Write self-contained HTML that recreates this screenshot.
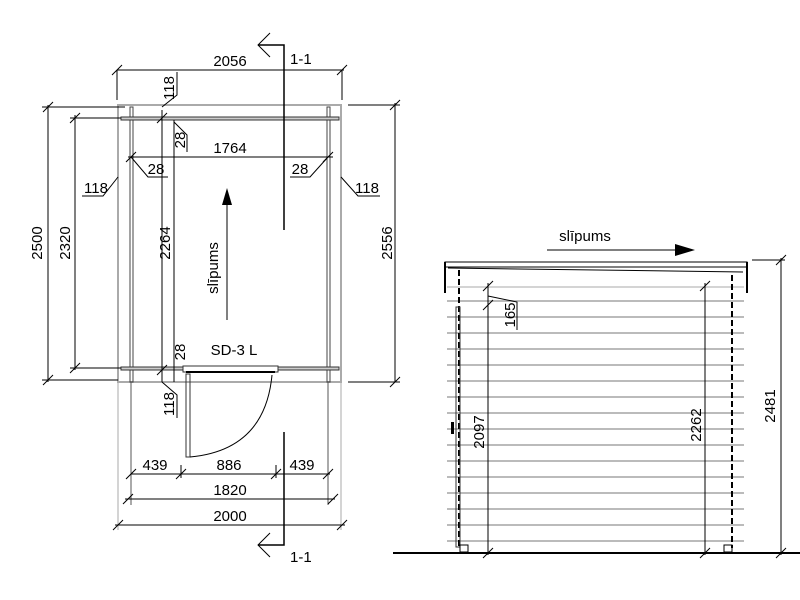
<!DOCTYPE html>
<html><head><style>body{margin:0;background:#fff}svg{display:block}text{font-family:"Liberation Sans",sans-serif;font-size:15px;fill:#000}</style></head><body>
<svg width="800" height="600" viewBox="0 0 800 600" xmlns="http://www.w3.org/2000/svg">
<defs>
<g id="t"><line x1="-5" y1="5" x2="5" y2="-5" stroke="#000" stroke-width="1"/></g>
</defs>
<g fill="none" stroke-width="1">
<rect x="118" y="105" width="223" height="277" stroke="#aaa" stroke-width="2"/>
<line x1="118" y1="382" x2="118" y2="530" stroke="#aaa"/>
<line x1="341" y1="382" x2="341" y2="530" stroke="#aaa"/>
<rect x="130" y="107" width="3" height="275" stroke="#444"/>
<rect x="327" y="107" width="3" height="275" stroke="#444"/>
<line x1="131" y1="382" x2="131" y2="505" stroke="#555"/>
<line x1="328" y1="382" x2="328" y2="505" stroke="#555"/>
<rect x="121" y="117" width="218" height="3" stroke="#333" fill="#ccc"/>
<rect x="121" y="367" width="218" height="3" stroke="#333" fill="#ccc"/>
<rect x="183" y="366" width="95" height="6" stroke="#333" fill="#fff"/>
<line x1="186" y1="372" x2="275" y2="372" stroke="#000" stroke-width="2"/>
<rect x="186" y="374" width="4" height="83" stroke="#333"/>
<path d="M190 457 Q265 450 272 375" stroke="#000"/>
<polyline points="270,33 258,45 270,57" stroke="#000"/>
<polyline points="258,45 284,45 284,230" stroke="#000" stroke-width="1.5"/>
<polyline points="284,432 284,545 258,545" stroke="#000" stroke-width="1.5"/>
<polyline points="270,533 258,545 270,557" stroke="#000"/>
<g stroke="#000">
<line x1="117" y1="70" x2="344" y2="70"/><line x1="117" y1="70" x2="117" y2="100"/><line x1="342" y1="70" x2="342" y2="100"/>
<line x1="128" y1="157" x2="333" y2="157"/>
<line x1="131" y1="474" x2="330" y2="474"/><line x1="181" y1="465" x2="181" y2="478"/><line x1="276" y1="465" x2="276" y2="478"/>
<line x1="125" y1="499" x2="335" y2="499"/>
<line x1="115" y1="525" x2="345" y2="525"/>
<line x1="48" y1="105" x2="48" y2="382"/><line x1="42" y1="107" x2="125" y2="107"/><line x1="42" y1="380" x2="118" y2="380"/>
<line x1="75" y1="115" x2="75" y2="370"/><line x1="70" y1="118" x2="121" y2="118"/><line x1="70" y1="368" x2="121" y2="368"/>
<line x1="162" y1="110" x2="162" y2="382"/>
<line x1="174" y1="120" x2="174" y2="382"/>
<line x1="395" y1="103" x2="395" y2="382"/><line x1="348" y1="105" x2="400" y2="105"/><line x1="348" y1="382" x2="400" y2="382"/>
<polyline points="162,107 177,95 177,72"/>
<polyline points="174,122 187,135 187,152"/>
<polyline points="131,157 148,177 168,177"/>
<polyline points="328,157 310,177 290,177"/>
<polyline points="118,177 103,196 82,196"/>
<polyline points="341,177 358,196 380,196"/>
<polyline points="162,382 177,395 177,418"/>
<line x1="227" y1="200" x2="227" y2="320"/>
</g>
<polygon points="227,188 222,205 232,205" fill="#000" stroke="none"/>
<g>
<use href="#t" x="117" y="70"/><use href="#t" x="342" y="70"/><use href="#t" x="131" y="157"/><use href="#t" x="328" y="157"/>
<use href="#t" x="131" y="474"/><use href="#t" x="181" y="474"/><use href="#t" x="276" y="474"/><use href="#t" x="328" y="474"/>
<use href="#t" x="128" y="499"/><use href="#t" x="333" y="499"/><use href="#t" x="118" y="525"/><use href="#t" x="342" y="525"/>
<use href="#t" x="48" y="107"/><use href="#t" x="48" y="380"/><use href="#t" x="75" y="118"/><use href="#t" x="75" y="368"/>
<use href="#t" x="395" y="105"/><use href="#t" x="395" y="382"/><use href="#t" x="162" y="118"/><use href="#t" x="162" y="370"/>
</g>
<line x1="393" y1="553" x2="800" y2="553" stroke="#000" stroke-width="2"/>
<g stroke="#bbb" stroke-width="2">
<line x1="447" y1="301" x2="744" y2="301"/><line x1="447" y1="317" x2="744" y2="317"/><line x1="447" y1="333" x2="744" y2="333"/><line x1="447" y1="349" x2="744" y2="349"/><line x1="447" y1="365" x2="744" y2="365"/><line x1="447" y1="381" x2="744" y2="381"/><line x1="447" y1="397" x2="744" y2="397"/><line x1="447" y1="413" x2="744" y2="413"/><line x1="447" y1="429" x2="744" y2="429"/><line x1="447" y1="445" x2="744" y2="445"/><line x1="447" y1="461" x2="744" y2="461"/><line x1="447" y1="477" x2="744" y2="477"/><line x1="447" y1="493" x2="744" y2="493"/><line x1="447" y1="509" x2="744" y2="509"/><line x1="447" y1="525" x2="744" y2="525"/><line x1="447" y1="541" x2="744" y2="541"/>
</g>
<line x1="447" y1="287" x2="744" y2="287" stroke="#aaa"/>
<rect x="445" y="262" width="302" height="5" stroke="#000" fill="#fff"/>
<line x1="448" y1="268" x2="743" y2="272" stroke="#000"/>
<line x1="445" y1="262" x2="445" y2="293" stroke="#000" stroke-width="2"/>
<line x1="747" y1="262" x2="747" y2="293" stroke="#000" stroke-width="2"/>
<line x1="459" y1="270" x2="459" y2="548" stroke="#000" stroke-width="2" stroke-dasharray="6,3"/>
<line x1="732" y1="275" x2="732" y2="548" stroke="#000" stroke-width="2" stroke-dasharray="6,3"/>
<rect x="456" y="307" width="4" height="240" stroke="#333"/>
<rect x="460" y="545" width="8" height="7" stroke="#000"/>
<rect x="724" y="545" width="8" height="7" stroke="#000"/>
<rect x="451" y="422" width="3" height="12" fill="#000"/>
<g stroke="#000">
<line x1="488" y1="283" x2="488" y2="555"/>
<line x1="705" y1="283" x2="705" y2="555"/>
<line x1="781" y1="258" x2="781" y2="555"/>
<line x1="752" y1="260" x2="785" y2="260"/>
<polyline points="488,296 517,302 517,330"/>
<line x1="547" y1="250" x2="680" y2="250"/>
</g>
<polygon points="695,250 675,244 675,256" fill="#000"/>
<use href="#t" x="488" y="286"/><use href="#t" x="488" y="305"/><use href="#t" x="488" y="553"/><use href="#t" x="705" y="286"/><use href="#t" x="705" y="553"/><use href="#t" x="781" y="260"/><use href="#t" x="781" y="553"/>
</g>
<g>
<text x="290" y="64">1-1</text>
<text x="290" y="562">1-1</text>
<text x="230" y="66" text-anchor="middle">2056</text>
<text x="230" y="153" text-anchor="middle">1764</text>
<text x="156" y="174" text-anchor="middle">28</text>
<text x="300" y="174" text-anchor="middle">28</text>
<text x="96" y="193" text-anchor="middle">118</text>
<text x="367" y="193" text-anchor="middle">118</text>
<text x="234" y="355" text-anchor="middle">SD-3 L</text>
<text x="155" y="470" text-anchor="middle">439</text>
<text x="229" y="470" text-anchor="middle">886</text>
<text x="302" y="470" text-anchor="middle">439</text>
<text x="230" y="495" text-anchor="middle">1820</text>
<text x="230" y="521" text-anchor="middle">2000</text>
<text x="585" y="241" text-anchor="middle">slīpums</text>
<text transform="translate(42,243) rotate(-90)" text-anchor="middle">2500</text>
<text transform="translate(70,243) rotate(-90)" text-anchor="middle">2320</text>
<text transform="translate(170,243) rotate(-90)" text-anchor="middle">2264</text>
<text transform="translate(392,243) rotate(-90)" text-anchor="middle">2556</text>
<text transform="translate(218,268) rotate(-90)" text-anchor="middle">slīpums</text>
<text transform="translate(174,88) rotate(-90)" text-anchor="middle">118</text>
<text transform="translate(185,140) rotate(-90)" text-anchor="middle">28</text>
<text transform="translate(185,352) rotate(-90)" text-anchor="middle">28</text>
<text transform="translate(174,404) rotate(-90)" text-anchor="middle">118</text>
<text transform="translate(515,315) rotate(-90)" text-anchor="middle">165</text>
<text transform="translate(484,432) rotate(-90)" text-anchor="middle">2097</text>
<text transform="translate(701,425) rotate(-90)" text-anchor="middle">2262</text>
<text transform="translate(775,406) rotate(-90)" text-anchor="middle">2481</text>
</g>
</svg>
</body></html>
